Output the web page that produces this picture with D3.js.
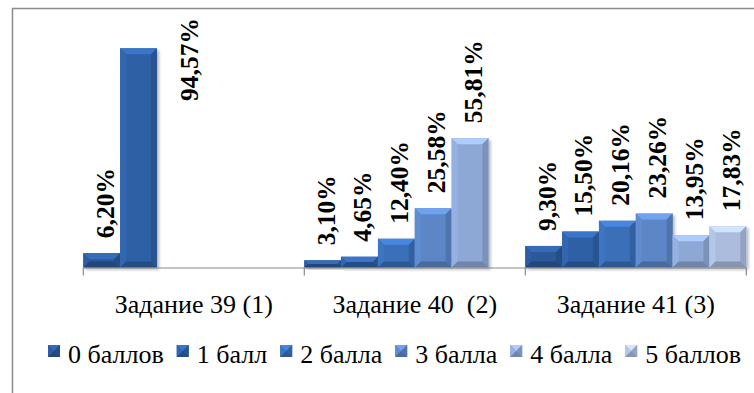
<!DOCTYPE html>
<html><head><meta charset="utf-8">
<script src="https://cdn.jsdelivr.net/npm/d3@7"></script>
</head><body style="margin:0;padding:0;background:#fff;overflow:hidden">
<svg id="chart" width="754" height="393"></svg>
<script>
const categories = ["Задание 39 (1)", "Задание 40  (2)", "Задание 41 (3)"];
const seriesNames = ["0 баллов", "1 балл", "2 балла", "3 балла", "4 балла", "5 баллов"];
const s0 = [6.20, 3.10, 9.30];
const s1 = [94.57, 4.65, 15.50];
const s2 = [null, 12.40, 20.16];
const s3 = [null, 25.58, 23.26];
const s4 = [null, 55.81, 13.95];
const s5 = [null, null, 17.83];
const seriesValues = [s0, s1, s2, s3, s4, s5];
const seriesColors = ["#2c5999", "#2f61a5", "#3a6fb8", "#5b86c6", "#8ea8d5", "#abbcdd"];

const FONT = '"Liberation Serif"';

function draw() {
const svg = d3.select("#chart");
svg.selectAll("*").remove();

svg.append("path").attr("d", "M12.5,393 V8.5 H754").attr("fill", "none")
  .attr("stroke", "#8a8a8a").attr("stroke-width", 1.5);

const defs = svg.append("defs");
const f = defs.append("filter").attr("id", "sh").attr("x", "-20%").attr("y", "-20%").attr("width", "150%").attr("height", "150%");
f.append("feDropShadow").attr("dx", 2).attr("dy", 2).attr("stdDeviation", 1.6).attr("flood-color", "#000").attr("flood-opacity", 0.3);

const x0 = d3.scaleBand().domain(categories).range([83.3, 746.3]).padding(0);
const x1 = d3.scaleBand().domain(d3.range(seriesNames.length)).range([0, x0.bandwidth()]).padding(0);
const y = d3.scaleLinear().domain([0, 100]).range([267.5, 35.7]);

function bevelBar(g, x, yTop, w, h, color, shadow) {
  const c = d3.color(color);
  const b = Math.min(6, h / 2, w / 2);
  const gg = g.append("g");
  const r = gg.append("rect").attr("x", x).attr("y", yTop).attr("width", w).attr("height", h).attr("fill", c.toString());
  if (shadow) r.attr("filter", "url(#sh)");
  const x2 = x + w, y2 = yTop + h;
  gg.append("path").attr("d", `M${x},${yTop} L${x2},${yTop} L${x2 - b},${yTop + b} L${x + b},${yTop + b} Z`).attr("fill", c.brighter(0.55).toString());
  gg.append("path").attr("d", `M${x},${yTop} L${x + b},${yTop + b} L${x + b},${y2 - b} L${x},${y2} Z`).attr("fill", c.brighter(0.15).toString());
  gg.append("path").attr("d", `M${x2},${yTop} L${x2},${y2} L${x2 - b},${y2 - b} L${x2 - b},${yTop + b} Z`).attr("fill", c.darker(0.4).toString());
  gg.append("path").attr("d", `M${x},${y2} L${x + b},${y2 - b} L${x2 - b},${y2 - b} L${x2},${y2} Z`).attr("fill", c.darker(0.65).toString());
  return gg;
}

const barsG = svg.append("g");
seriesValues.forEach((vals, si) => {
  vals.forEach((v, ci) => {
    if (v == null) return;
    const bx = x0(categories[ci]) + x1(si);
    const yt = y(v);
    bevelBar(barsG, bx, yt, x1.bandwidth(), y(0) - yt, seriesColors[si], true);
  });
});

const axisG = svg.append("g").attr("transform", `translate(0,${y(0)})`);
axisG.call(d3.axisBottom(x0).tickSize(0).tickFormat(""));
axisG.select(".domain").attr("stroke", "#8a8a8a").attr("stroke-width", 1.2).attr("d", `M${x0.range()[0]},0.5 H${x0.range()[1]}`);
const bounds = categories.map(c => x0(c)).concat([x0.range()[1]]);
axisG.selectAll("line.tb").data(bounds).enter().append("line").attr("class", "tb")
  .attr("x1", d => d).attr("x2", d => d).attr("y1", 0).attr("y2", 8)
  .attr("stroke", "#8a8a8a").attr("stroke-width", 1.2);
svg.append("g").selectAll("text").data(categories).enter().append("text")
  .attr("x", d => x0(d) + x0.bandwidth() / 2).attr("y", 313)
  .attr("text-anchor", "middle").attr("font-size", 26)
  .style("font-family", FONT).style("white-space", "pre")
  .text(d => d);

const fmt = v => v.toFixed(2).replace(".", ",") + "%";
const labG = svg.append("g");
seriesValues.forEach((vals, si) => {
  vals.forEach((v, ci) => {
    if (v == null) return;
    const bx = x0(categories[ci]) + x1(si);
    const cx = bx + x1.bandwidth() / 2;
    const t = labG.append("text").attr("font-size", 25.5).attr("font-weight", "bold")
      .style("font-family", FONT).attr("dy", "0.35em").text(fmt(v));
    const len = t.node().getComputedTextLength();
    let ly = y(v) - 15;
    let lx = cx + 3;
    if (ly - len < 12) {
      lx = bx + x1.bandwidth() + 32;
      t.attr("text-anchor", "end");
      ly = 18;
    }
    t.attr("transform", `translate(${lx},${ly}) rotate(-90)`);
  });
});

const legG = svg.append("g");
let lxp = 48;
seriesNames.forEach((name, si) => {
  bevelBar(legG, lxp, 345, 12, 12, seriesColors[si], false);
  const t = legG.append("text").attr("x", lxp + 20).attr("y", 363).attr("font-size", 26)
    .style("font-family", FONT).text(name);
  lxp += 20 + t.node().getComputedTextLength() + 13;
});
}

draw();
if (document.fonts && document.fonts.load) {
  Promise.all([
    document.fonts.load('26px "Liberation Serif"', "Задание 0123456789%"),
    document.fonts.load('bold 26px "Liberation Serif"', "0123456789,%")
  ]).then(draw).catch(() => {});
}
</script>
</body></html>
